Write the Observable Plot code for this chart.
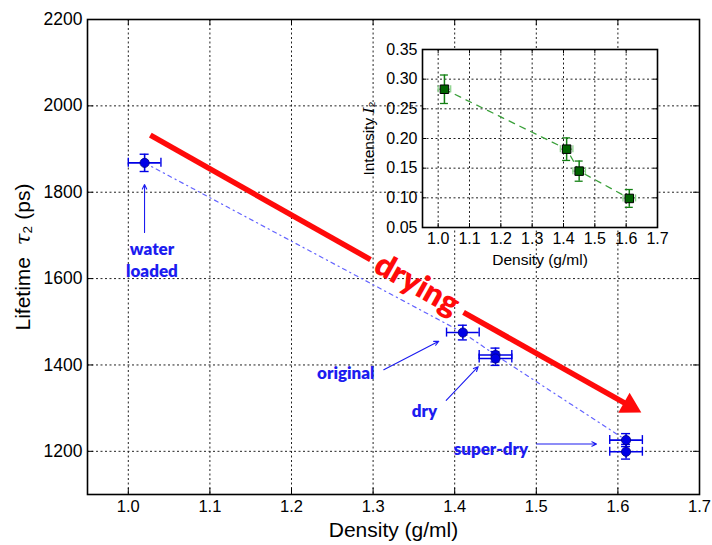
<!DOCTYPE html>
<html><head><meta charset="utf-8">
<script src="https://cdn.jsdelivr.net/npm/d3@7"></script>
<script src="https://cdn.jsdelivr.net/npm/@observablehq/plot@0.6"></script>
<style>
html,body{margin:0;padding:0;background:#fff;}
#wrap{position:relative;width:712px;height:545px;overflow:hidden;}
#wrap svg{position:absolute;}
</style></head><body><div id="wrap"></div>
<script>
// ---- main chart data ----
const densities   = [1.02, 1.41, 1.45, 1.45, 1.61, 1.61];
const lifetimes   = [1868, 1475, 1423, 1415, 1226, 1199];
const lifetimeErr = [20, 17, 16, 16, 15, 17];
const densityErr  = [0.02, 0.02, 0.02, 0.02, 0.02, 0.02];
const lineIndex   = [0, 1, 2, 4];
const xTicks = [1.0, 1.1, 1.2, 1.3, 1.4, 1.5, 1.6, 1.7];
const yTicks = [1200, 1400, 1600, 1800, 2000, 2200];
const xGrid = [1.0, 1.1, 1.2, 1.3, 1.4, 1.5, 1.6];
const yGrid = [1200, 1400, 1600, 1800, 2000];

// annotations
const labelTexts = ["water\nloaded", "original", "dry", "super-dry"];
const labelX = [1.029, 1.2665, 1.363, 1.4443];
const labelY = [1646, 1384, 1295, 1207];
const pointerX1 = [1.0199, 1.3131, 1.3896, 1.5002];
const pointerY1 = [1707, 1389, 1318, 1217];
const pointerX2 = [1.0199, 1.3805, 1.4288, 1.5738];
const pointerY2 = [1818, 1455, 1396, 1217];
// drying arrow: shaft in two pieces around the word, then the head
const dryingShaftX1 = [1.027, 1.4108];
const dryingShaftY1 = [1932, 1522];
const dryingShaftX2 = [1.2968, 1.6145];
const dryingShaftY2 = [1644, 1305];
const dryingHead = {x: 1.6145, y: 1305, angle: 29.4};
const dryingText = {text: "drying", x: 1.3538, y: 1586};

// ---- inset data ----
const insetDensity = [1.02, 1.41, 1.45, 1.61];
const intensity    = [0.283, 0.182, 0.145, 0.099];
const intensityErr = [0.024, 0.019, 0.017, 0.015];
const insetDensErr = [0.02, 0.02, 0.02, 0.02];
const insetXTicks = [1.0, 1.1, 1.2, 1.3, 1.4, 1.5, 1.6, 1.7];
const insetYTicks = [0.05, 0.10, 0.15, 0.20, 0.25, 0.30, 0.35];
const insetXGrid = [1.0, 1.1, 1.2, 1.3, 1.4, 1.5, 1.6];
const insetYGrid = [0.10, 0.15, 0.20, 0.25, 0.30];

const W = 712, H = 545, mL = 87, mR = 13, mT = 19, mB = 51;
const fW = W - mL - mR, fH = H - mT - mB;
const font = "'Liberation Sans', Arial, sans-serif";
const boldFont = "Lato, 'Open Sans', sans-serif";
const blue = "#0000e6", textBlue = "#1c1cf0", red = "#ff0a0a";
const grid = {stroke: "#222", strokeWidth: 1, strokeDasharray: "2,2.5"};

const pts = densities.map((x, i) => ({x, y: lifetimes[i], xe: densityErr[i], ye: lifetimeErr[i]}));
const linePts = lineIndex.map(i => pts[i]);
const labels = labelTexts.map((t, i) => ({t, x: labelX[i], y: labelY[i]}));
const pointers = pointerX1.map((x1, i) => ({x1, y1: pointerY1[i], x2: pointerX2[i], y2: pointerY2[i]}));
const shafts = dryingShaftX1.map((x1, i) => ({x1, y1: dryingShaftY1[i], x2: dryingShaftX2[i], y2: dryingShaftY2[i]}));

const yLabel = "Lifetime  τ₂ (ps)";
const main = Plot.plot({
  width: W, height: H, marginLeft: mL, marginRight: mR, marginTop: mT, marginBottom: mB,
  style: {background: "white", fontFamily: font, fontSize: "17.5px", color: "black"},
  x: {domain: [0.95, 1.7], label: null},
  y: {domain: [1100, 2200], label: null},
  marks: [
    Plot.ruleX(xGrid, grid),
    Plot.ruleY(yGrid, grid),
    Plot.ruleX(xTicks, {insetTop: fH - 6, stroke: "black"}),
    Plot.ruleX(xTicks, {insetBottom: fH - 6, stroke: "black"}),
    Plot.ruleY(yTicks, {insetRight: fW - 6, stroke: "black"}),
    Plot.ruleY(yTicks, {insetLeft: fW - 6, stroke: "black"}),
    Plot.axisX(xTicks, {tickFormat: d3.format(".1f"), tickSize: 0, tickPadding: 6, fontSize: 16.5, label: null}),
    Plot.axisY(yTicks, {tickFormat: d => String(d), tickSize: 0, tickPadding: 5, fontSize: 17.5, label: null}),
    // connecting dash-dot line
    Plot.line(linePts, {x: "x", y: "y", stroke: "#6464ff", strokeWidth: 1.2, strokeDasharray: "4,4,1.2,4"}),
    // drying arrow
    Plot.link(shafts, {x1: "x1", y1: "y1", x2: "x2", y2: "y2", stroke: red, strokeWidth: 5.5}),
    Plot.dot([dryingHead], {x: "x", y: "y", symbol: "triangle2", r: 11, fill: red, rotate: d => 90 + d.angle}),
    Plot.text([dryingText], {x: "x", y: "y", text: "text", rotate: dryingHead.angle, fill: red, fontFamily: boldFont, fontWeight: 800, fontSize: 32, textAnchor: "middle", lineAnchor: "middle"}),
    // error bars
    Plot.ruleY(pts, {y: "y", x1: d => d.x - d.xe, x2: d => d.x + d.xe, stroke: blue, strokeWidth: 1.6}),
    Plot.ruleX(pts, {x: d => d.x - d.xe, y1: "y", y2: "y", insetTop: -4.5, insetBottom: -4.5, stroke: blue, strokeWidth: 1.4}),
    Plot.ruleX(pts, {x: d => d.x + d.xe, y1: "y", y2: "y", insetTop: -4.5, insetBottom: -4.5, stroke: blue, strokeWidth: 1.4}),
    Plot.ruleX(pts, {x: "x", y1: d => d.y - d.ye, y2: d => d.y + d.ye, stroke: blue, strokeWidth: 1.6}),
    Plot.ruleY(pts, {y: d => d.y - d.ye, x1: "x", x2: "x", insetLeft: -4.5, insetRight: -4.5, stroke: blue, strokeWidth: 1.4}),
    Plot.ruleY(pts, {y: d => d.y + d.ye, x1: "x", x2: "x", insetLeft: -4.5, insetRight: -4.5, stroke: blue, strokeWidth: 1.4}),
    Plot.dot(pts, {x: "x", y: "y", r: 4.6, fill: blue, stroke: "#000080", strokeWidth: 0.8}),
    // annotations
    Plot.arrow(pointers, {x1: "x1", y1: "y1", x2: "x2", y2: "y2", stroke: textBlue, strokeWidth: 1.1, headLength: 7, headAngle: 50}),
    Plot.text(labels, {x: "x", y: "y", text: "t", fill: textBlue, fontFamily: boldFont, fontWeight: 800, fontSize: 17, lineHeight: 1.3}),
    // axis titles
    Plot.text(["Density (g/ml)"], {frameAnchor: "bottom", dy: 36, fontSize: 21, fill: "black", textAnchor: "middle", lineAnchor: "middle"}),
    Plot.text([yLabel], {frameAnchor: "left", dx: -64, rotate: -90, fontSize: 21, fill: "black", textAnchor: "middle", lineAnchor: "middle"}),
    Plot.frame({stroke: "black", strokeWidth: 1.6})
  ]
});

// ---- inset ----
const iL = 360, iT = 40, iW = 312, iH = 232, imL = 62, imR = 15, imT = 9, imB = 45;
const ifW = iW - imL - imR, ifH = iH - imT - imB;
const ipts = insetDensity.map((x, i) => ({x, y: intensity[i], xe: insetDensErr[i], ye: intensityErr[i]}));
const green = "#138013", lightGreen = "#8fd48f";
const iLabel = "Intensity I₂";
const inset = Plot.plot({
  width: iW, height: iH, marginLeft: imL, marginRight: imR, marginTop: imT, marginBottom: imB,
  style: {background: "none", fontFamily: font, fontSize: "16px", color: "black"},
  x: {domain: [0.95, 1.7], ticks: insetXTicks, tickFormat: d3.format(".1f"), tickSize: 0, tickPadding: 5, label: null},
  y: {domain: [0.05, 0.35], ticks: insetYTicks, tickFormat: d3.format(".2f"), tickSize: 0, tickPadding: 5, label: null},
  marks: [
    Plot.frame({fill: "white", stroke: "none"}),
    Plot.ruleX(insetXGrid, grid),
    Plot.ruleY(insetYGrid, grid),
    Plot.ruleX(insetXTicks, {insetTop: ifH - 4, stroke: "black"}),
    Plot.ruleX(insetXTicks, {insetBottom: ifH - 4, stroke: "black"}),
    Plot.ruleY(insetYTicks, {insetRight: ifW - 4, stroke: "black"}),
    Plot.ruleY(insetYTicks, {insetLeft: ifW - 4, stroke: "black"}),
    Plot.line(ipts, {x: "x", y: "y", stroke: "#3aa03a", strokeWidth: 1.3, strokeDasharray: "6,6"}),
    Plot.ruleY(ipts, {y: "y", x1: d => d.x - d.xe, x2: d => d.x + d.xe, stroke: lightGreen, strokeWidth: 1.5}),
    Plot.ruleX(ipts, {x: d => d.x - d.xe, y1: "y", y2: "y", insetTop: -3.5, insetBottom: -3.5, stroke: lightGreen, strokeWidth: 1.3}),
    Plot.ruleX(ipts, {x: d => d.x + d.xe, y1: "y", y2: "y", insetTop: -3.5, insetBottom: -3.5, stroke: lightGreen, strokeWidth: 1.3}),
    Plot.ruleX(ipts, {x: "x", y1: d => d.y - d.ye, y2: d => d.y + d.ye, stroke: green, strokeWidth: 1.5}),
    Plot.ruleY(ipts, {y: d => d.y - d.ye, x1: "x", x2: "x", insetLeft: -4, insetRight: -4, stroke: green, strokeWidth: 1.3}),
    Plot.ruleY(ipts, {y: d => d.y + d.ye, x1: "x", x2: "x", insetLeft: -4, insetRight: -4, stroke: green, strokeWidth: 1.3}),
    Plot.dot(ipts, {x: "x", y: "y", symbol: "square", r: 4.8, fill: "#006400", stroke: "black", strokeWidth: 1}),
    Plot.text(["Density (g/ml)"], {frameAnchor: "bottom", dy: 33, fontSize: 15.5, fill: "black", textAnchor: "middle", lineAnchor: "middle"}),
    Plot.text([iLabel], {frameAnchor: "left", dx: -53, rotate: -90, fontSize: 15.5, fill: "black", textAnchor: "middle", lineAnchor: "middle"}),
    Plot.frame({stroke: "black", strokeWidth: 1.6})
  ]
});

const wrap = document.getElementById("wrap");
main.style.left = "0px"; main.style.top = "0px";
inset.style.left = iL + "px"; inset.style.top = iT + "px";
wrap.appendChild(main);
wrap.appendChild(inset);

// italic math symbols in axis titles
function italicize(svg, full, sym) {
  svg.querySelectorAll("text").forEach(t => {
    if (t.textContent === full) {
      const k = full.lastIndexOf(sym);
      const a = full.slice(0, k), b = full.slice(k + sym.length);
      t.textContent = "";
      t.setAttribute("xml:space", "preserve");
      t.style.whiteSpace = "pre";
      t.appendChild(document.createTextNode(a));
      const ts = document.createElementNS("http://www.w3.org/2000/svg", "tspan");
      ts.setAttribute("font-style", "italic");
      ts.setAttribute("font-family", "'DejaVu Serif', serif");
      ts.textContent = sym;
      t.appendChild(ts);
      t.appendChild(document.createTextNode(b));
    }
  });
}
italicize(main, yLabel, "τ");
italicize(inset, iLabel, "I");
</script>
</body></html>
